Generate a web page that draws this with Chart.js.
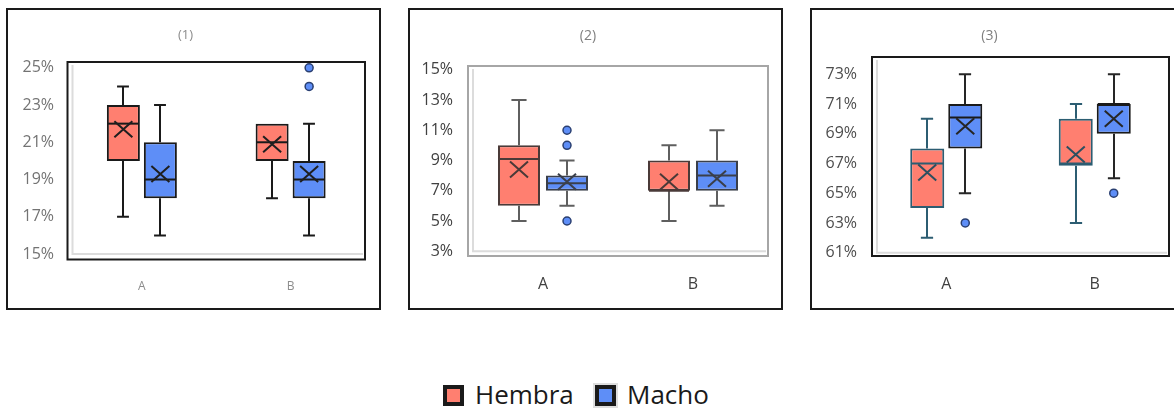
<!DOCTYPE html>
<html>
<head>
<meta charset="utf-8">
<script src="https://cdn.jsdelivr.net/npm/chart.js@4.4.1/dist/chart.umd.min.js"></script>
<style>
  html, body { margin: 0; padding: 0; background: #fff; width: 1174px; height: 409px; overflow: hidden; }
  .panel { position: absolute; top: 8px; width: 375px; height: 302px; }
  .panel canvas { position: absolute; left: 0; top: 0; }
  .panel .border { position: absolute; left: 0; top: 0; width: 375px; height: 302px; border: 2px solid #1a1a1a; box-sizing: border-box; pointer-events: none; }
  .swatch { position: absolute; top: 385px; width: 21px; height: 21px; border: 4px solid #1a1a1a; box-sizing: border-box; }
  .ltext { position: absolute; top: 381px; font-family: 'Open Sans', sans-serif; font-size: 26px; line-height: 26px; color: #1a1a1a; white-space: nowrap; }
</style>
</head>
<body>
<div class="panel" style="left:6px"><canvas id="c1" width="375" height="302"></canvas><div class="border"></div></div>
<div class="panel" style="left:408px"><canvas id="c2" width="375" height="302"></canvas><div class="border"></div></div>
<div class="panel" style="left:810px"><canvas id="c3" width="375" height="302"></canvas><div class="border"></div></div>

<div class="swatch" style="left:443px; background:#ff7f70"></div>
<div class="ltext" style="left:475px">Hembra</div>
<div class="swatch" style="left:595px; background:#5e8ef7; box-shadow:0 0 0 2px #dedede"></div>
<div class="ltext" style="left:627px">Macho</div>

<script>
// Groups and series
const categories = ['A', 'B'];
const seriesNames = ['Hembra', 'Macho'];

// Box statistics per group: [min, q1, median, q3, max]
// (1)
const p1HembraBox = [[17, 20, 22, 23, 24], [18, 20, 21, 22, 22]];
const p1HembraMean = [21.7, 20.9];
const p1HembraOutliers = [[], []];
const p1MachoBox = [[16, 18, 19, 21, 23], [16, 18, 19, 20, 22]];
const p1MachoMean = [19.3, 19.3];
const p1MachoOutliers = [[], [24, 25]];
const p1Ticks = [15, 17, 19, 21, 23, 25];

// (2)
const p2HembraBox = [[5, 6, 9.1, 10, 13], [5, 7, 7, 9, 10]];
const p2HembraMean = [8.4, 7.6];
const p2HembraOutliers = [[], []];
const p2MachoBox = [[6, 7, 7.5, 8, 9], [6, 7, 8, 9, 11]];
const p2MachoMean = [7.6, 7.8];
const p2MachoOutliers = [[5, 10, 11], []];
const p2Ticks = [3, 5, 7, 9, 11, 13, 15];

// (3)
const p3HembraBox = [[62, 64, 67, 68, 70], [63, 66.85, 67, 70, 71]];
const p3HembraMean = [66.4, 67.6];
const p3HembraOutliers = [[], []];
const p3MachoBox = [[65, 68, 70.1, 71, 73], [66, 69, 71, 71, 73]];
const p3MachoMean = [69.5, 70];
const p3MachoOutliers = [[63], [65]];
const p3Ticks = [61, 63, 65, 67, 69, 71, 73];

Chart.defaults.font.family = "'Open Sans', sans-serif";

const HEMBRA_FILL = '#ff7f70';
const MACHO_FILL = '#5e8ef7';

// Draws the plot frame, whiskers, medians, means and outliers around the floating bars
const boxPlotDraw = {
  id: 'boxPlotDraw',
  beforeDatasetsDraw(chart, args, opts) {
    const { ctx, chartArea: a, scales: { y } } = chart;
    ctx.save();
    // inner light rule along left and bottom
    const yMin = y.getPixelForValue(y.ticks[0].value);
    ctx.strokeStyle = '#dcdcdc';
    ctx.lineWidth = 2;
    ctx.beginPath();
    ctx.moveTo(a.left + 5, a.top + 3);
    ctx.lineTo(a.left + 5, yMin);
    ctx.lineTo(a.right - 2, yMin);
    ctx.stroke();
    // frame
    ctx.strokeStyle = opts.frameColor;
    ctx.lineWidth = 2;
    ctx.strokeRect(a.left, a.top, a.right - a.left, a.bottom - a.top);

    // whiskers
    chart.data.datasets.forEach((ds, di) => {
      const meta = chart.getDatasetMeta(di);
      ctx.strokeStyle = ds.whiskerColor;
      ctx.lineWidth = opts.whiskerWidth;
      meta.data.forEach((el, i) => {
        const s = ds.stats[i];
        const x = Math.round(el.x) + 0.5 * (opts.whiskerWidth % 2);
        const cap = el.width * 0.36;
        const pMin = y.getPixelForValue(s[0]);
        const pQ1 = y.getPixelForValue(s[1]);
        const pQ3 = y.getPixelForValue(s[3]);
        const pMax = y.getPixelForValue(s[4]);
        ctx.beginPath();
        if (s[4] > s[3]) {
          ctx.moveTo(x, pQ3); ctx.lineTo(x, pMax);
          ctx.moveTo(x - cap / 2, pMax); ctx.lineTo(x + cap / 2, pMax);
        }
        if (s[0] < s[1]) {
          ctx.moveTo(x, pQ1); ctx.lineTo(x, pMin);
          ctx.moveTo(x - cap / 2, pMin); ctx.lineTo(x + cap / 2, pMin);
        }
        ctx.stroke();
      });
    });
    ctx.restore();
  },
  afterDatasetsDraw(chart, args, opts) {
    const { ctx, scales: { y } } = chart;
    ctx.save();
    chart.data.datasets.forEach((ds, di) => {
      const meta = chart.getDatasetMeta(di);
      meta.data.forEach((el, i) => {
        const s = ds.stats[i];
        const x = el.x;
        const w = el.width;
        // median
        const pMed = y.getPixelForValue(s[2]);
        ctx.strokeStyle = ds.borderColor;
        ctx.lineWidth = 2;
        ctx.beginPath();
        ctx.moveTo(x - w / 2 + 1, pMed);
        ctx.lineTo(x + w / 2 - 1, pMed);
        ctx.stroke();
        // mean marker
        const pMean = y.getPixelForValue(ds.means[i]);
        ctx.strokeStyle = ds.markerColor;
        ctx.lineWidth = 2;
        ctx.beginPath();
        ctx.moveTo(x - 9, pMean - 8); ctx.lineTo(x + 9, pMean + 8);
        ctx.moveTo(x - 9, pMean + 8); ctx.lineTo(x + 9, pMean - 8);
        ctx.stroke();
        // outliers
        ds.outliers[i].forEach(v => {
          const p = y.getPixelForValue(v);
          ctx.beginPath();
          ctx.arc(x, p, 4, 0, Math.PI * 2);
          ctx.fillStyle = MACHO_FILL;
          ctx.fill();
          ctx.lineWidth = 1.5;
          ctx.strokeStyle = '#2a3f70';
          ctx.stroke();
        });
      });
    });
    ctx.restore();
  }
};

function makeDataset(label, box, means, outliers, fill, border, whisker, marker) {
  return {
    label: label,
    data: box.map(b => [b[1], b[3]]),
    stats: box,
    means: means,
    outliers: outliers,
    backgroundColor: fill,
    borderColor: border,
    borderWidth: 2,
    borderSkipped: false,
    whiskerColor: whisker,
    markerColor: marker
  };
}

function makePanel(id, cfg) {
  new Chart(document.getElementById(id), {
    type: 'bar',
    data: {
      labels: categories,
      datasets: cfg.datasets
    },
    options: {
      responsive: false,
      animation: false,
      devicePixelRatio: 1,
      categoryPercentage: cfg.catPct,
      barPercentage: cfg.barPct,
      layout: { padding: { left: 0, right: cfg.padRight, top: 0, bottom: 0 } },
      plugins: {
        legend: { display: false },
        tooltip: { enabled: false },
        title: {
          display: true,
          text: cfg.title,
          color: cfg.titleColor,
          font: { size: cfg.titleSize, weight: 'normal' },
          padding: { top: cfg.titleTop, bottom: cfg.titleBottom }
        },
        boxPlotDraw: { frameColor: cfg.frameColor, whiskerWidth: cfg.whiskerWidth }
      },
      scales: {
        x: {
          grid: { display: false },
          border: { display: false },
          ticks: { color: cfg.xColor, font: { size: cfg.xSize }, padding: cfg.xPad },
          afterFit: s => { s.height = cfg.xHeight; }
        },
        y: {
          min: cfg.yMin,
          max: cfg.yMax,
          grid: { display: false, drawTicks: false },
          border: { display: false },
          ticks: { color: cfg.yColor, font: { size: 16 }, padding: cfg.yPad, callback: v => v + '%' },
          afterBuildTicks: s => { s.ticks = cfg.ticks.map(v => ({ value: v })); },
          afterFit: s => { s.width = cfg.yWidth; }
        }
      }
    },
    plugins: [boxPlotDraw]
  });
}

makePanel('c1', {
  title: '(1)', titleColor: '#8c8c8c', titleSize: 13, titleTop: 19, titleBottom: 19.4,
  datasets: [
    makeDataset(seriesNames[0], p1HembraBox, p1HembraMean, p1HembraOutliers, HEMBRA_FILL, '#1a1a1a', '#1a1a1a', '#1f1f1f'),
    makeDataset(seriesNames[1], p1MachoBox, p1MachoMean, p1MachoOutliers, MACHO_FILL, '#1a1a1a', '#1a1a1a', '#1f1f1f')
  ],
  catPct: 0.4975, barPct: 0.892, padRight: 16,
  frameColor: '#1a1a1a', whiskerWidth: 2,
  xColor: '#8c8c8c', xSize: 12, xPad: 12, xHeight: 50.5,
  yMin: 14.705, yMax: 25.31, yColor: '#737373', yPad: 13.5, yWidth: 61.5, ticks: p1Ticks
});

makePanel('c2', {
  title: '(2)', titleColor: '#7f7f7f', titleSize: 14, titleTop: 19.6, titleBottom: 21.6,
  datasets: [
    makeDataset(seriesNames[0], p2HembraBox, p2HembraMean, p2HembraOutliers, HEMBRA_FILL, '#4a3a38', '#5f5f5f', '#4a3a38'),
    makeDataset(seriesNames[1], p2MachoBox, p2MachoMean, p2MachoOutliers, MACHO_FILL, '#3a3f4a', '#5f5f5f', '#3a3f4a')
  ],
  catPct: 0.64, barPct: 0.875, padRight: 15,
  frameColor: '#a6a6a6', whiskerWidth: 2,
  xColor: '#404040', xSize: 16, xPad: 11, xHeight: 54,
  yMin: 2.686, yMax: 15.247, yColor: '#404040', yPad: 15, yWidth: 60, ticks: p2Ticks
});

makePanel('c3', {
  title: '(3)', titleColor: '#7f7f7f', titleSize: 14, titleTop: 19.6, titleBottom: 12.6,
  datasets: [
    makeDataset(seriesNames[0], p3HembraBox, p3HembraMean, p3HembraOutliers, HEMBRA_FILL, '#2c5d72', '#2c5d72', '#2c4f60'),
    makeDataset(seriesNames[1], p3MachoBox, p3MachoMean, p3MachoOutliers, MACHO_FILL, '#1a1a1a', '#262626', '#262626')
  ],
  catPct: 0.512, barPct: 0.895, padRight: 16,
  frameColor: '#1a1a1a', whiskerWidth: 2,
  xColor: '#404040', xSize: 16, xPad: 11, xHeight: 54,
  yMin: 60.778, yMax: 74.16, yColor: '#4d4d4d', yPad: 15, yWidth: 62, ticks: p3Ticks
});
</script>
</body>
</html>
